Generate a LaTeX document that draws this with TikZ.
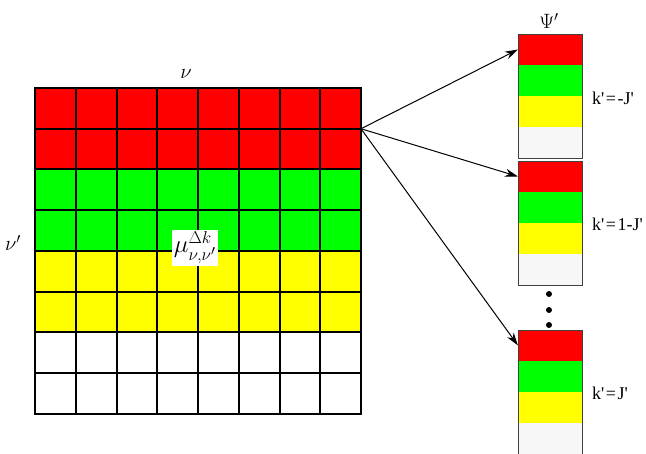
\documentclass[tikz,border=0pt]{standalone}
\usepackage{amsmath}
\usepackage{fontspec}
\newfontfamily\labelfont{Liberation Serif}
\usetikzlibrary{arrows.meta}
\definecolor{vecgray}{HTML}{F7F7F7}
\definecolor{cellgreen}{HTML}{00FF00}
\definecolor{cellyellow}{HTML}{FFFF00}

\begin{document}
\begin{tikzpicture}[x=1pt,y=-1pt,
    cell/.style={draw=black,line width=2pt,minimum size=40.75pt,inner sep=0pt,outer sep=0pt},
    block/.style={minimum width=64pt,minimum height=31pt,inner sep=0pt,outer sep=0pt},
    klabel/.style={anchor=west,inner sep=0pt,font=\labelfont\fontsize{18}{20}\selectfont},
    glabel/.style={inner sep=0pt,font=\fontsize{21}{24}\selectfont},
    link/.style={-{Stealth[length=13pt,width=8pt]},line width=1pt}]
    \useasboundingbox (0,0) rectangle (646,454);

    % Coupling matrix, rows nu', columns nu
    \foreach \r/\col in {1/red,2/red,3/cellgreen,4/cellgreen,5/cellyellow,6/cellyellow,7/white,8/white}
      \foreach \c in {1,...,8}
        \node[cell,fill=\col] (c\r\c) at ({35+40.75*(\c-0.5)},{88+40.75*(\r-0.5)}) {};

    \node[glabel] (nu) at (186,74) {$\nu$};
    \node[glabel] (nup) at (13,243) {$\nu'$};
    \node[fill=white,inner sep=1.5pt,font=\fontsize{27}{30}\selectfont] (mu) at (195,248) {$\mu^{\Delta k}_{\nu,\nu'}$};

    % Vectors Psi'
    \foreach \v/\y in {1/34,2/161,3/330} {
      \foreach \b/\col in {1/red,2/cellgreen,3/cellyellow,4/vecgray}
        \node[block,fill=\col] (v\v b\b) at (550,{\y+31*(\b-0.5)}) {};
      \draw[black!75,line width=0.9pt] (v\v b1.north west) rectangle (v\v b4.south east);
    }

    \node[glabel] (psi) at (549,21) {$\Psi'$};
    \node[klabel] (k1) at (592,98) {k'\kern1.5pt=\kern1.5pt-J'};
    \node[klabel] (k2) at (592,224) {k'\kern1.5pt=\kern1.5pt1-J'};
    \node[klabel] (k3) at (592,393) {k'\kern1.5pt=\kern1.5ptJ'};

    % Dots between vectors
    \foreach \y [count=\i] in {294,310,325}
      \node[circle,fill=black,inner sep=0pt,minimum size=6pt] (dot\i) at (549,\y) {};

    % Arrows from the matrix to the vectors
    \draw[link] (c18.south east) -- (v1b1.west);
    \draw[link] (c18.south east) -- (v2b1.west);
    \draw[link] (c18.south east) -- (v3b1.west);
\end{tikzpicture}
\end{document}
